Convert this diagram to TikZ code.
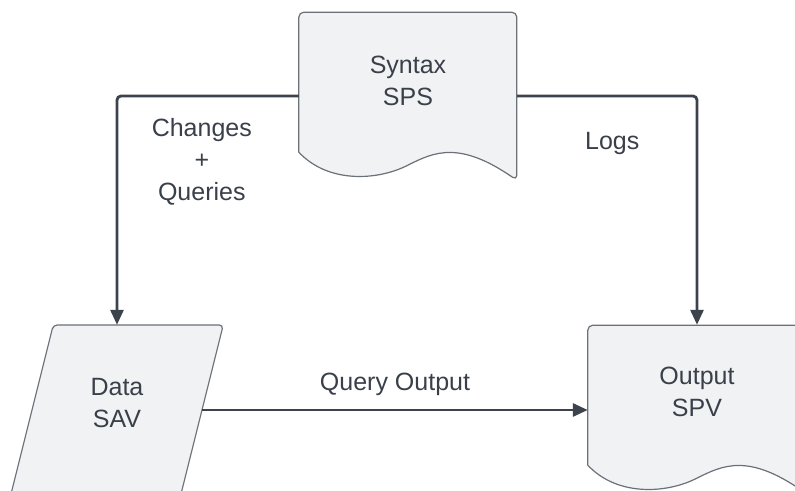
\documentclass[tikz,border=0pt]{standalone}
\usepackage{fontspec}
\setmainfont{Liberation Sans}
\usetikzlibrary{shapes.geometric, arrows.meta, positioning, calc}
\definecolor{shapefill}{HTML}{F1F2F4}
\definecolor{shapeline}{HTML}{6B7079}
\definecolor{flowline}{HTML}{3D434C}
\definecolor{flowtext}{HTML}{3A4049}
\newcommand{\flowfont}{\fontsize{25}{32}\selectfont}
\tikzset{docbox/.style={rectangle,minimum width=218pt,minimum height=168pt,inner sep=0pt},
         databox/.style={rectangle,minimum width=170pt,minimum height=170pt,inner sep=0pt},
         shapeline/.style={draw=shapeline,fill=shapefill,line width=1.2pt},
         shapetext/.style={align=center,text=flowtext,font=\flowfont},
         flowlabel/.style={align=center,text=flowtext,font=\flowfont},
         arrow/.style={-{Triangle[length=15pt,width=13pt]},line width=2.8pt,draw=flowline,rounded corners=4pt}}

\begin{document}
\begin{tikzpicture}[x=1pt,y=1pt]
  \useasboundingbox (0,0) rectangle (795,490);
  \clip (0,0) rectangle (795,490);

  \node (sps) [docbox] at (408,394) {};
  \node (spv) [docbox] at (697,81) {};
  \node (sav) [databox] at (117,80) {};

  % document outlines: flat top, wavy bottom
  \foreach \n in {sps,spv} {
    \begin{scope}[shift={(\n.south west)}]
      \draw[shapeline] (218,0) .. controls (160,40) and (135,28) .. (109,15)
        .. controls (80,0) and (30,-4) .. (0,28)
        [rounded corners=5pt] -- (0,168) -- (218,168) -- cycle;
    \end{scope}
  }
  % data input: slanted box
  \begin{scope}[shift={(sav.center)}, xslant=0.25]
    \draw[shapeline, rounded corners=4pt] (-85,-85) rectangle (85,85);
  \end{scope}

  \node (sps-txt) [shapetext] at ([yshift=15pt]sps.center) {Syntax\\SPS};
  \node (spv-txt) [shapetext] at ([yshift=17pt]spv.center) {Output\\SPV};
  \node (sav-txt) [shapetext] at ([yshift=7pt]sav.center) {Data\\SAV};

  \draw[arrow] (sps.west) -| (sav.north);
  \draw[arrow] (sps.east) -| (spv.north);
  \draw[arrow] (sav.east) -- (sav.east -| spv.west)
    node (qout) [flowlabel, midway, above=10pt] {Query Output};

  \node (chg) [flowlabel] at ($(sps.west)+(-97,-66)$) {Changes\\+\\Queries};
  \node (logs) [flowlabel] at ($(sps.east)+(95,-47)$) {Logs};
\end{tikzpicture}
\end{document}
